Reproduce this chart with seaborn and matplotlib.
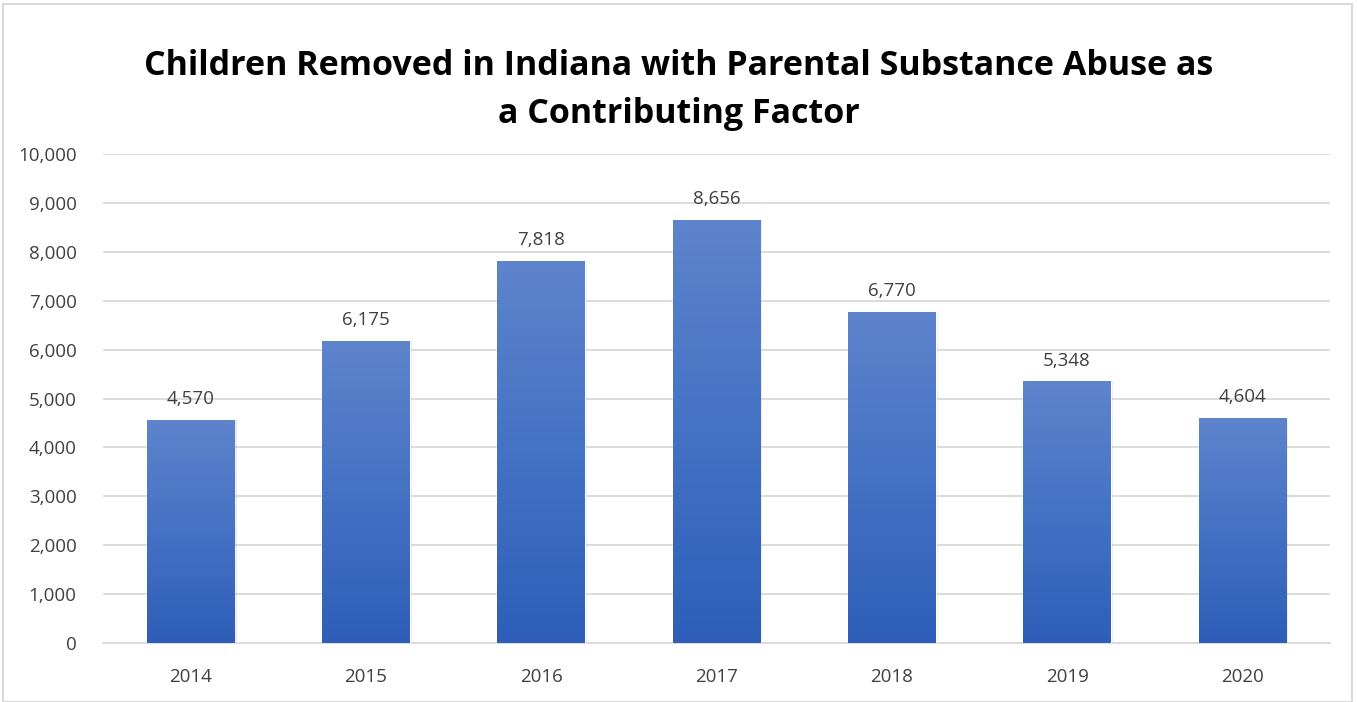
import numpy as np
import pandas as pd
import matplotlib
matplotlib.use("Agg")
import matplotlib.pyplot as plt
import seaborn as sns
from matplotlib.colors import LinearSegmentedColormap
from matplotlib.patches import Rectangle

years = ["2014", "2015", "2016", "2017", "2018", "2019", "2020"]
removed = [4570, 6175, 7818, 8656, 6770, 5348, 4604]
title_text = "Children Removed in Indiana with Parental Substance Abuse as\na Contributing Factor"

sns.set_theme(style="white")
plt.rcParams['font.family'] = ['Open Sans', 'DejaVu Sans']

df = pd.DataFrame({"year": years, "removed": removed})

fig = plt.figure(figsize=(13.57, 7.02), dpi=100)
ax = fig.add_axes([103/1357, 1-643/702, (1330-103)/1357, (643-154)/702])

sns.barplot(data=df, x="year", y="removed", ax=ax, color="#4472C4", width=0.5,
            saturation=1, zorder=3)

ax.set_ylim(0, 10000)
ax.set_yticks(np.arange(0, 10001, 1000))
ax.set_yticklabels([f"{v:,}" for v in range(0, 10001, 1000)])
ax.grid(axis="y", color="#D9D9D9", linewidth=1.3, zorder=0)
ax.grid(axis="x", visible=False)
for s in ["top", "right", "left"]:
    ax.spines[s].set_visible(False)
ax.spines["bottom"].set_color("#D9D9D9")
ax.spines["bottom"].set_linewidth(1.3)
ax.tick_params(axis="both", length=0, labelsize=13.5, labelcolor="#404040")
ax.tick_params(axis="y", pad=19)
ax.tick_params(axis="x", pad=18)
ax.set_xlabel("")
ax.set_ylabel("")

cmap = LinearSegmentedColormap.from_list(
    "g", [(0.0, "#2E5EB8"), (0.5, "#4472C4"), (1.0, "#5E84CC")])
grad = np.linspace(0, 1, 256).reshape(-1, 1)
for p in ax.patches:
    x0, w, h = p.get_x(), p.get_width(), p.get_height()
    sh = Rectangle((x0 + 0.012, 0), w, h, facecolor="#000000", alpha=0.08,
                   edgecolor="none", zorder=2.5)
    ax.add_patch(sh)
    im = ax.imshow(grad, extent=[x0, x0 + w, 0, h], origin="lower",
                   cmap=cmap, aspect="auto", zorder=3.1)
    im.set_clip_path(p)
    ax.text(x0 + w / 2, h + 240, f"{int(round(h)):,}", ha="center", va="bottom",
            fontsize=13.5, color="#404040", zorder=4)
ax.set_xlim(-0.5, len(years) - 0.5)

fig.text(0.5, 1 - 90/702, title_text, ha="center", va="center",
         fontsize=24.5, fontweight="bold", color="#000000", linespacing=1.52)

fig.patches.append(Rectangle((3/1357, 0), 1 - 8/1357, 1 - 4/702,
                             transform=fig.transFigure, fill=False,
                             edgecolor="#D9D9D9", linewidth=1.5))

fig.savefig("out.png", dpi=100)
